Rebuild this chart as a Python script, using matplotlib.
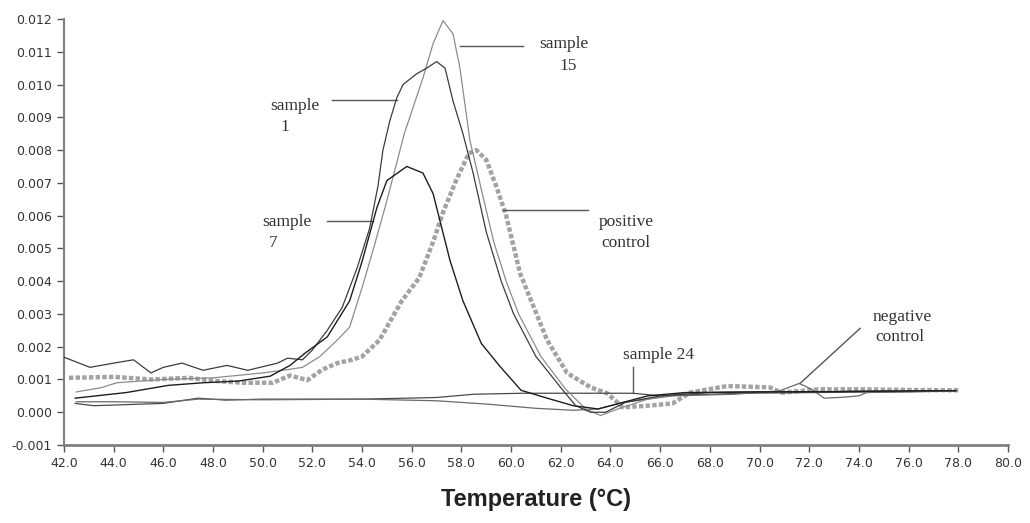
import matplotlib
matplotlib.use('Agg')
import matplotlib.pyplot as plt
import numpy as np

# melt curves: temperature (C) and -dF/dT values
s1_t = [42.0, 43.05, 44.0, 44.8, 45.5, 46.0, 46.75, 47.6, 48.56, 49.4, 50.6, 51.0, 51.6,
        52.0, 52.6, 53.2, 53.8, 54.3, 54.64, 54.84, 55.12, 55.4, 55.65, 56.2, 56.6, 57.0,
        57.34, 57.66, 58.06, 58.47, 59.0, 59.6, 60.1, 61.0, 62.0, 62.6, 63.2, 63.8, 64.6,
        66.0, 68.0, 70.0, 72.0, 74.0, 76.0, 77.9]
s1_v = [0.00168, 0.00137, 0.0015, 0.0016, 0.0012, 0.00137, 0.0015, 0.00128, 0.00143, 0.00128,
        0.0015, 0.00165, 0.0016, 0.0019, 0.0025, 0.0032, 0.0044, 0.0056, 0.0069, 0.0080,
        0.0089, 0.0096, 0.0100, 0.01033, 0.0105, 0.0107, 0.0105, 0.0095, 0.0085, 0.0073,
        0.0055, 0.0040, 0.0030, 0.0017, 0.00075, 0.0002, 0.0, 0.0, 0.0003, 0.0005, 0.0006,
        0.00062, 0.00062, 0.00064, 0.00065, 0.00066]

s7_t = [42.45, 44.5, 46.2, 47.6, 49.0, 50.3, 51.1, 51.7, 52.6, 53.5, 54.0, 54.6, 55.0, 55.8,
        56.45, 56.86, 57.54, 58.06, 58.8, 59.55, 60.4, 61.45, 62.5, 63.5, 64.5, 65.5, 67.0,
        70.0, 73.0, 76.0, 77.9]
s7_v = [0.00043, 0.0006, 0.00082, 0.0009, 0.00095, 0.0011, 0.00143, 0.0018, 0.0023, 0.0034,
        0.0046, 0.00625, 0.00707, 0.0075, 0.0073, 0.00667, 0.00463, 0.0034, 0.0021, 0.0014,
        0.00067, 0.00043, 0.0002, 0.0001, 0.0003, 0.0005, 0.0006, 0.00062, 0.00063, 0.00065,
        0.00066]

s15_t = [42.5, 43.5, 44.13, 46.0, 48.0, 50.0, 51.0, 51.6, 52.3, 53.0, 53.5, 54.04, 54.5, 55.0,
         55.7, 56.45, 56.86, 57.26, 57.66, 57.94, 58.34, 58.8, 59.3, 59.8, 60.3, 61.2, 62.2,
         63.0, 63.6, 64.3, 65.5, 67.0, 70.0, 73.0, 76.0, 77.9]
s15_v = [0.00062, 0.00075, 0.0009, 0.001, 0.00105, 0.0012, 0.0013, 0.00137, 0.0017, 0.0022,
         0.0026, 0.0039, 0.0051, 0.00646, 0.0085, 0.0102, 0.01125, 0.01195, 0.01155, 0.0105,
         0.0083, 0.0068, 0.0052, 0.0040, 0.0030, 0.0017, 0.0007, 0.0001, -0.0001, 0.0001,
         0.0004, 0.0006, 0.00062, 0.00063, 0.00065, 0.00066]

s24_t = [42.45, 43.2, 46.0, 47.4, 48.5, 50.0, 54.0, 57.0, 58.5, 60.5, 64.9, 66.0, 69.3, 72.0,
         75.0, 77.9]
s24_v = [0.00027, 0.0002, 0.00027, 0.00043, 0.00037, 0.0004, 0.0004, 0.00045, 0.00055,
         0.00058, 0.00058, 0.0005, 0.00058, 0.0006, 0.00062, 0.00065]

neg_t = [42.5, 44.0, 46.0, 47.4, 50.0, 54.0, 57.0, 59.0, 61.0, 62.5, 63.5, 64.5, 65.5, 66.5,
         69.0, 70.8, 71.6, 72.1, 72.6, 73.4, 74.0, 74.3, 76.0, 77.9]
neg_v = [0.00032, 0.00032, 0.0003, 0.0004, 0.00038, 0.0004, 0.00035, 0.00025, 0.00012,
         0.00006, 0.0001, 0.0003, 0.0004, 0.0005, 0.00055, 0.00065, 0.00088, 0.0007, 0.00043,
         0.00046, 0.0005, 0.0006, 0.00062, 0.00065]

pos_t = [42.2, 44.0, 45.5, 47.0, 48.2, 49.2, 50.4, 51.1, 51.8, 52.4, 53.0, 53.6, 54.0, 54.7,
         55.6, 56.3, 56.86, 57.26, 57.8, 58.3, 58.6, 59.0, 59.4, 59.8, 60.36, 61.45, 62.25,
         63.2, 63.86, 64.5, 65.5, 66.5, 67.2, 68.7, 70.4, 70.9, 72.4, 74.0, 76.0, 78.07]
pos_v = [0.00105, 0.00108, 0.001, 0.00105, 0.00095, 0.0009, 0.0009, 0.00112, 0.00098, 0.0013,
         0.0015, 0.0016, 0.0017, 0.0022, 0.0034, 0.0041, 0.0052, 0.0061, 0.0071, 0.0079,
         0.0080, 0.0077, 0.0069, 0.0060, 0.00424, 0.0022, 0.0012, 0.00076, 0.00058, 0.00015,
         0.0002, 0.00027, 0.0006, 0.0008, 0.00076, 0.0006, 0.0007, 0.0007, 0.00068, 0.00067]

x_ticks = np.arange(42, 80.1, 2)
y_ticks = np.arange(-0.001, 0.01201, 0.001)

# label text, text anchor, pointer start, pointer end
labels = [
    (['sample', '15'], [(62.13, 0.01125), (62.3, 0.01058)], (60.48, 0.01119), (57.94, 0.01119)),
    (['sample', '1'], [(51.3, 0.00936), (50.9, 0.00869)], (52.79, 0.00954), (55.41, 0.00954)),
    (['sample', '7'], [(50.98, 0.00579), (50.41, 0.00515)], (52.59, 0.00585), (54.44, 0.00585)),
    (['positive', 'control'], [(64.62, 0.00579), (64.62, 0.00515)], (63.1, 0.00616), (59.67, 0.00616)),
    (['sample 24'], [(65.95, 0.00174)], (64.9, 0.00137), (64.9, 0.00058)),
    (['negative', 'control'], [(75.74, 0.0029), (75.65, 0.00229)], (74.05, 0.00256), (71.63, 0.00088)),
]

fig = plt.figure(figsize=(10.3, 5.23), dpi=100)
ax = fig.add_axes([0.0621, 0.1491, 0.9165, 0.8146])

ax.plot(pos_t, pos_v, color='#a3a3a3', linewidth=3.2, linestyle=(0, (1.0, 0.5)),
        dash_capstyle='butt', zorder=2)
ax.plot(s24_t, s24_v, color='#4a4a4a', linewidth=0.9, zorder=3)
ax.plot(neg_t, neg_v, color='#6a6a6a', linewidth=0.9, zorder=3)
ax.plot(s15_t, s15_v, color='#8c8c8c', linewidth=0.9, zorder=3)
ax.plot(s1_t, s1_v, color='#3c3c3c', linewidth=0.9, zorder=3)
ax.plot(s7_t, s7_v, color='#1e1e1e', linewidth=1.0, zorder=3)

for texts, spots, p0, p1 in labels:
    for txt, (tx, ty) in zip(texts, spots):
        ax.text(tx, ty, txt, ha='center', va='center', fontsize=12.5,
                family='Liberation Serif', color='#333333')
    ax.plot([p0[0], p1[0]], [p0[1], p1[1]], color='#555555', linewidth=1.0)

ax.set_xlim(42, 80)
ax.set_ylim(-0.001, 0.012)
ax.set_xticks(x_ticks)
ax.set_xticklabels([f'{t:.1f}' for t in x_ticks])
ax.set_yticks(y_ticks)
ax.set_yticklabels([f'{v:.3f}' for v in y_ticks])
ax.tick_params(axis='both', labelsize=9, colors='#555555', labelcolor='#333333',
               length=5, width=1.0)
for side in ['top', 'right']:
    ax.spines[side].set_visible(False)
ax.spines['left'].set_color('#808080')
ax.spines['bottom'].set_color('#808080')
ax.spines['left'].set_linewidth(1.5)
ax.spines['bottom'].set_linewidth(2.0)

ax.set_xlabel('Temperature (°C)', fontsize=17, fontweight='bold', family='Liberation Sans',
              color='#222222', labelpad=13)

plt.savefig('out.png', dpi=100)
